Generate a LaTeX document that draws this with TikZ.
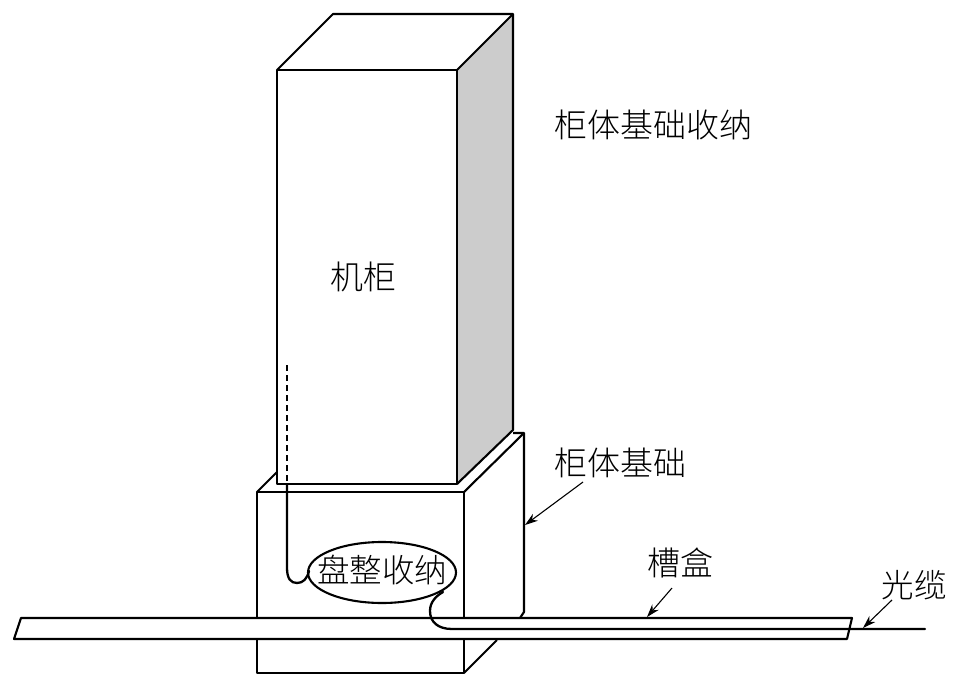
\documentclass[tikz,border=0pt]{standalone}
\usepackage{fontspec}
\newfontfamily\cjk{Noto Sans CJK SC Light}
\usetikzlibrary{arrows.meta,shapes.geometric}
\tikzset{
  edge/.style={draw=black,line width=2.1pt,line join=round},
  cable/.style={draw=black,line width=2.3pt,line cap=round},
  lab/.style={font=\cjk\fontsize{33}{33}\selectfont,inner sep=0pt,text=black},
  pointer/.style={draw=black,line width=1.1pt,-{Stealth[length=13pt,width=8.5pt]}}
}
\begin{document}
\begin{tikzpicture}[x=1pt,y=-1pt]
\useasboundingbox (0,0) rectangle (956,683);
\coordinate (cableTop) at (287,365);
\coordinate (cableIn) at (287,484);
\coordinate (cableEnd) at (925,629);
\coordinate (baseTip) at (525,525);
\coordinate (baseTail) at (583,482);
\coordinate (trayTip) at (647,617);
\coordinate (trayTail) at (672,588);
\coordinate (fibreTip) at (863,628);
\coordinate (fibreTail) at (892,600);
% cabinet base
\draw[edge] (257,492) -- (277,472);
\draw[edge] (513,433) -- (524,433) -- (524,612) -- (520,618);
\draw[edge] (464,492) -- (524,433);
\draw[edge] (464,673) -- (497,640);
\draw[edge] (257,492) rectangle (464,673);
% cabinet
\fill[black!20] (457,70) -- (513,14) -- (513,430) -- (457,484) -- cycle;
\draw[edge,fill=white] (277,70) rectangle (457,484);
\draw[edge] (277,70) -- (333,14) -- (513,14) -- (513,430) -- (457,484);
\draw[edge] (457,70) -- (513,14);
% tray
\draw[edge,fill=white] (21,618) -- (852,618) -- (847,639) -- (14,639) -- cycle;
% cable
\draw[draw=black,line width=2.3pt,dash pattern=on 6pt off 4pt] (cableTop) -- (cableIn);
\node[draw=black,line width=2.1pt,ellipse,minimum width=148pt,minimum height=61pt,inner sep=0pt,fill=white] (coil) at (382,572.5) {};
\draw[cable] (cableIn) -- (287,568) .. controls (287,579) and (291,583) .. (297,583) .. controls (303,583) and (307,579) .. (309,571);
\draw[cable] (443,592) .. controls (436,596) and (430,602) .. (430,611) .. controls (430,622) and (438,629) .. (452,629) -- (cableEnd);
% labels
\node[lab] (ltop) at (653,125) {柜体基础收纳};
\node[lab] (lcab) at (363,277) {机柜};
\node[lab,font=\cjk\fontsize{32.5}{32.5}\selectfont] (lcoil) at (382,570) {盘整收纳};
\node[lab] (lbase) at (620,463) {柜体基础};
\node[lab] (ltray) at (680,563) {槽盒};
\node[lab,font=\cjk\fontsize{32.5}{32.5}\selectfont] (lfibre) at (914,585) {光缆};
% pointers
\draw[pointer] (baseTail) -- (baseTip);
\draw[pointer] (trayTail) -- (trayTip);
\draw[pointer] (fibreTail) -- (fibreTip);
\end{tikzpicture}
\end{document}
